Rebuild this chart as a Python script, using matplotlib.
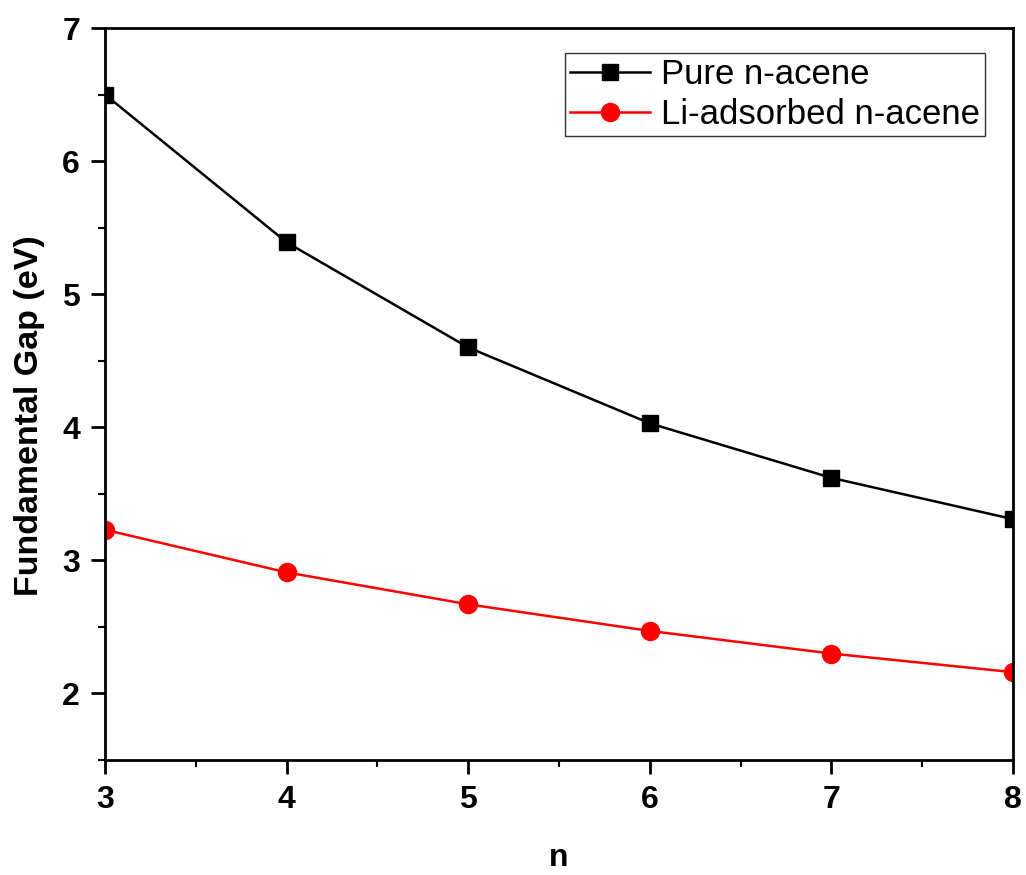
import matplotlib
matplotlib.use("Agg")
import matplotlib.pyplot as plt
from matplotlib.ticker import MultipleLocator

plt.rcParams['font.family'] = ['Liberation Sans', 'DejaVu Sans']

# number of rings in the acene
n = [3, 4, 5, 6, 7, 8]
# fundamental gap in eV
gap_pure = [6.50, 5.39, 4.60, 4.03, 3.62, 3.31]
gap_li = [3.23, 2.91, 2.67, 2.47, 2.30, 2.16]

fig = plt.figure(figsize=(10.26, 8.75), dpi=100)
ax = fig.add_axes([0.1023, 0.1314, 0.8850, 0.8366])

ax.plot(n, gap_pure, color='black', lw=1.8, marker='s', markersize=11,
        label='Pure n-acene')
ax.plot(n, gap_li, color='red', lw=1.8, marker='o', markersize=13,
        label='Li-adsorbed n-acene')

ax.set_xlim(3, 8)
ax.set_ylim(1.5, 7)
ax.xaxis.set_major_locator(MultipleLocator(1))
ax.xaxis.set_minor_locator(MultipleLocator(0.5))
ax.yaxis.set_major_locator(MultipleLocator(1))
ax.yaxis.set_minor_locator(MultipleLocator(0.5))

for s in ax.spines.values():
    s.set_linewidth(2)
ax.tick_params(which='major', direction='out', length=10, width=2,
               labelsize=23, pad=8, top=False, right=False)
ax.tick_params(which='minor', direction='out', length=5, width=1.5,
               top=False, right=False)
for lab in ax.get_xticklabels() + ax.get_yticklabels():
    lab.set_fontweight('bold')

ax.set_xlabel('n', fontsize=23, fontweight='bold', labelpad=20)
ax.set_ylabel('Fundamental Gap (eV)', fontsize=24.5, fontweight='bold')
ax.yaxis.set_label_coords(-0.066, 0.471)

leg = ax.legend(loc='upper right', bbox_to_anchor=(0.969, 0.966), fontsize=25,
                frameon=True, fancybox=False, edgecolor='black',
                handlelength=2.3, handletextpad=0.3, borderpad=0.15,
                labelspacing=0.2, borderaxespad=0)
leg.get_frame().set_linewidth(1)

fig.savefig('out.png', dpi=100)
